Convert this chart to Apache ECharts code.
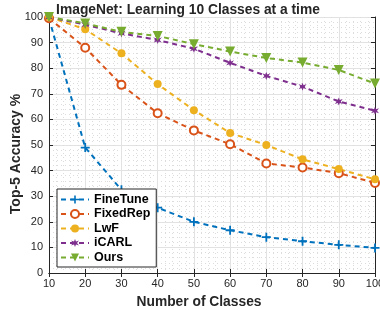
<!DOCTYPE html>
<html>
<head>
<meta charset="utf-8">
<script src="https://cdn.jsdelivr.net/npm/echarts@6/dist/echarts.min.js"></script>
<style>
  html, body { margin: 0; padding: 0; background: #fff; }
  #main { width: 380px; height: 310px; }
</style>
</head>
<body>
<div id="main"></div>
<script>
const classes = [10, 20, 30, 40, 50, 60, 70, 80, 90, 100];
const fineTune = [99.5, 49, 32.5, 25.5, 20, 16.7, 14, 12.4, 11, 9.8];
const fixedRep = [99.5, 88, 73.5, 62.4, 55.7, 50.3, 42.8, 41.2, 39, 35.2];
const lwf = [100, 95.2, 85.8, 73.8, 63.6, 54.7, 50, 44.4, 40.6, 36.6];
const icarl = [100, 97, 93.6, 91, 87.6, 82.1, 77, 72.8, 67, 63.4];
const ours = [100, 97.5, 94.2, 92.6, 89.4, 86.5, 84, 82.2, 79.3, 74];

const xTicks = [10, 20, 30, 40, 50, 60, 70, 80, 90, 100];
const yTicks = [0, 10, 20, 30, 40, 50, 60, 70, 80, 90, 100];

const font = 'Liberation Sans, Arial, sans-serif';
const ink = '#262626';
const plusPath = 'path://M4,0H6V4H10V6H6V10H4V6H0V4H4Z';
const starPath = 'path://M5,0L6.2,3.2L9.8,1.8L7.4,5L9.8,8.2L6.2,6.8L5,10L3.8,6.8L0.2,8.2L2.6,5L0.2,1.8L3.8,3.2Z';

function mk(name, data, color, symbol, size, hollow, rotate) {
  return {
    name: name,
    type: 'line',
    data: data.map((v, i) => [classes[i], v]),
    symbol: symbol,
    symbolSize: size,
    symbolRotate: rotate || 0,
    showSymbol: true,
    lineStyle: { color: color, width: 2, type: [5, 4] },
    itemStyle: hollow
      ? { color: '#fff', borderColor: color, borderWidth: 2 }
      : { color: color, borderWidth: 0 },
    emphasis: { disabled: true },
    z: 3
  };
}

const chart = echarts.init(document.getElementById('main'));
chart.setOption({
  animation: false,
  backgroundColor: '#fff',
  title: {
    text: 'ImageNet: Learning 10 Classes at a time',
    left: 183, textAlign: 'center', top: -2,
    textStyle: { fontFamily: font, fontSize: 13.8, fontWeight: 'bold', color: ink }
  },
  grid: { left: 49, right: 5, top: 17, bottom: 37, outerBoundsMode: 'none', containLabel: false },
  legend: {
    orient: 'vertical',
    left: 57, top: 189,
    padding: [4, 6, 3, 3],
    itemGap: 1.5,
    itemWidth: 28, itemHeight: 10,
    backgroundColor: '#fff',
    borderColor: ink, borderWidth: 1,
    textStyle: { fontFamily: font, fontSize: 12.5, fontWeight: 'bold', color: '#000', lineHeight: 13 },
    data: ['FineTune', 'FixedRep', 'LwF', 'iCARL', 'Ours']
  },
  xAxis: [{
    type: 'value', min: 10, max: 100, interval: 10,
    name: 'Number of Classes', nameLocation: 'middle', nameGap: 22, nameMoveOverlap: false,
    nameTextStyle: { fontFamily: font, fontSize: 13.8, fontWeight: 'bold', color: ink, padding: [0, 26, 0, 0] },
    axisLine: { lineStyle: { color: ink, width: 1 } },
    axisTick: { inside: true, length: 4, lineStyle: { color: ink } },
    axisLabel: { fontFamily: font, fontSize: 11, color: ink, margin: 5,
      formatter: v => xTicks.includes(v) ? String(v) : '' },
    splitLine: { show: true, lineStyle: { color: '#e2e2e2', width: 1 } },
    minorTick: { show: false, splitNumber: 5 },
    minorSplitLine: { show: true, lineStyle: { color: '#dcdcdc', width: 1, type: [1, 3] } }
  }, {
    type: 'value', min: 10, max: 100, interval: 10, position: 'top',
    axisLine: { show: true, lineStyle: { color: ink, width: 1 } },
    axisTick: { inside: true, length: 4, lineStyle: { color: ink } },
    axisLabel: { show: false }, splitLine: { show: false }
  }],
  yAxis: [{
    type: 'value', min: 0, max: 100, interval: 10,
    name: 'Top-5 Accuracy %', nameLocation: 'middle', nameGap: 26, nameMoveOverlap: false,
    nameTextStyle: { fontFamily: font, fontSize: 14, fontWeight: 'bold', color: ink, padding: [0, 18, 0, 0] },
    axisLine: { show: true, lineStyle: { color: ink, width: 1 } },
    axisTick: { show: true, inside: true, length: 4, lineStyle: { color: ink } },
    axisLabel: { fontFamily: font, fontSize: 11, color: ink, margin: 6,
      formatter: v => yTicks.includes(v) ? String(v) : '' },
    splitLine: { show: true, lineStyle: { color: '#e2e2e2', width: 1 } },
    minorTick: { show: false, splitNumber: 5 },
    minorSplitLine: { show: true, lineStyle: { color: '#dcdcdc', width: 1, type: [1, 3] } }
  }, {
    type: 'value', min: 0, max: 100, interval: 10, position: 'right',
    axisLine: { show: true, lineStyle: { color: ink, width: 1 } },
    axisTick: { show: true, inside: true, length: 4, lineStyle: { color: ink } },
    axisLabel: { show: false }, splitLine: { show: false }
  }],
  series: [
    mk('FineTune', fineTune, '#0072BD', plusPath, 9, false),
    mk('FixedRep', fixedRep, '#D95319', 'circle', 8, true),
    mk('LwF', lwf, '#EDB120', 'circle', 8, false),
    mk('iCARL', icarl, '#7E2F8E', starPath, 8, false),
    mk('Ours', ours, '#77AC30', 'triangle', 10, false, 180)
  ]
});
</script>
</body>
</html>
